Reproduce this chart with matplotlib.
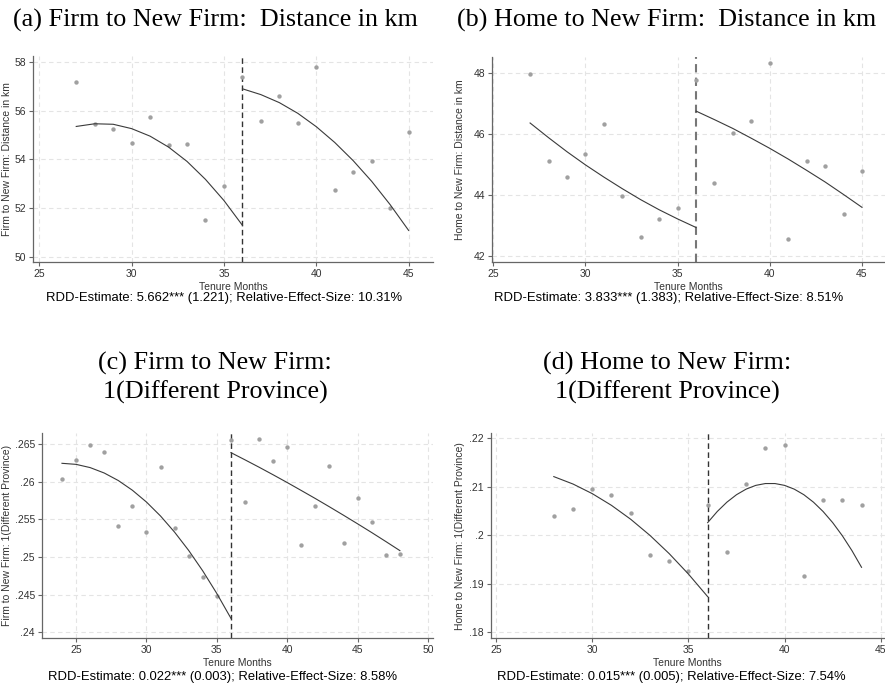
import matplotlib
matplotlib.use("Agg")
import matplotlib.pyplot as plt

plt.rcParams['font.family'] = ['Liberation Sans', 'DejaVu Sans']

# ---------------- data ----------------
# (a) Firm to New Firm: Distance in km
months_a = [27, 28, 29, 30, 31, 32, 33, 34, 35, 36, 37, 38, 39, 40, 41, 42, 43, 44, 45]
vals_a = [57.20, 55.46, 55.25, 54.69, 55.73, 54.58, 54.64, 51.49, 52.90,
          57.38, 55.58, 56.62, 55.52, 57.79, 52.75, 53.49, 53.94, 52.00, 55.15]
fitx_left_a = [27, 28, 29, 30, 31, 32, 33, 34, 35, 36]
fit_left_a = [55.36, 55.47, 55.45, 55.27, 54.96, 54.51, 53.92, 53.18, 52.31, 51.29]
fitx_right_a = [36, 37, 38, 39, 40, 41, 42, 43, 44, 45]
fit_right_a = [56.91, 56.67, 56.34, 55.90, 55.35, 54.70, 53.95, 53.10, 52.14, 51.08]
xticks_a = [25, 30, 35, 40, 45]
yticks_a = [50, 52, 54, 56, 58]
yticklabels_a = ['50', '52', '54', '56', '58']

# (b) Home to New Firm: Distance in km
months_b = [27, 28, 29, 30, 31, 32, 33, 34, 35, 36, 37, 38, 39, 40, 41, 42, 43, 44, 45]
vals_b = [47.97, 45.11, 44.57, 45.35, 46.32, 43.97, 42.61, 43.22, 43.57,
          47.75, 44.38, 46.03, 46.40, 48.32, 42.54, 45.09, 44.93, 43.38, 44.78]
fitx_left_b = [27, 28, 29, 30, 31, 32, 33, 34, 35, 36]
fit_left_b = [46.35, 45.87, 45.41, 44.98, 44.58, 44.20, 43.84, 43.51, 43.21, 42.93]
fitx_right_b = [36, 37, 38, 39, 40, 41, 42, 43, 44, 45]
fit_right_b = [46.74, 46.46, 46.17, 45.85, 45.52, 45.17, 44.80, 44.42, 44.01, 43.59]
xticks_b = [25, 30, 35, 40, 45]
yticks_b = [42, 44, 46, 48]
yticklabels_b = ['42', '44', '46', '48']

# (c) Firm to New Firm: 1(Different Province)
months_c = [24, 25, 26, 27, 28, 29, 30, 31, 32, 33, 34, 35,
            36, 37, 38, 39, 40, 41, 42, 43, 44, 45, 46, 47, 48]
vals_c = [0.26039, 0.26296, 0.26496, 0.26402, 0.25418, 0.25680, 0.25330, 0.26194,
          0.25383, 0.25015, 0.24731, 0.24488,
          0.26553, 0.25738, 0.26575, 0.26283, 0.26465, 0.25166, 0.25680, 0.26207,
          0.25188, 0.25787, 0.25468, 0.25024, 0.25042]
fitx_left_c = [24, 25, 26, 27, 28, 29, 30, 31, 32, 33, 34, 35, 36]
fit_left_c = [0.26247, 0.26233, 0.26190, 0.26118, 0.26018, 0.25889, 0.25732,
              0.25546, 0.25331, 0.25088, 0.24816, 0.24515, 0.24186]
fitx_right_c = [36, 37, 38, 39, 40, 41, 42, 43, 44, 45, 46, 47, 48]
fit_right_c = [0.26389, 0.26293, 0.26195, 0.26094, 0.25991, 0.25885, 0.25778,
               0.25668, 0.25556, 0.25442, 0.25326, 0.25207, 0.25086]
xticks_c = [25, 30, 35, 40, 45, 50]
yticks_c = [0.24, 0.245, 0.25, 0.255, 0.26, 0.265]
yticklabels_c = ['.24', '.245', '.25', '.255', '.26', '.265']

# (d) Home to New Firm: 1(Different Province)
months_d = [28, 29, 30, 31, 32, 33, 34, 35, 36, 37, 38, 39, 40, 41, 42, 43, 44]
vals_d = [0.20399, 0.20550, 0.20948, 0.20825, 0.20467, 0.19601, 0.19471, 0.19258,
          0.20632, 0.19663, 0.21065, 0.21801, 0.21863, 0.19168, 0.20729, 0.20735, 0.20632]
fitx_left_d = [28, 29, 30, 31, 32, 33, 34, 35, 36]
fit_left_d = [0.21210, 0.21057, 0.20859, 0.20617, 0.20330, 0.19998, 0.19622, 0.19201, 0.18735]
fitx_right_d = [36, 36.5, 37, 37.5, 38, 38.5, 39, 39.5, 40, 40.5, 41, 41.5, 42, 42.5, 43, 43.5, 44]
fit_right_d = [0.20261, 0.20491, 0.20683, 0.20837, 0.20952, 0.21029, 0.21067, 0.21067,
               0.21029, 0.20952, 0.20837, 0.20683, 0.20491, 0.20261, 0.19992, 0.19685, 0.19340]
xticks_d = [25, 30, 35, 40, 45]
yticks_d = [0.18, 0.19, 0.20, 0.21, 0.22]
yticklabels_d = ['.18', '.19', '.2', '.21', '.22']

cutoff = 36

titles = ['(a) Firm to New Firm:  Distance in km',
          '(b) Home to New Firm:  Distance in km',
          '(c) Firm to New Firm:\n1(Different Province)',
          '(d) Home to New Firm:\n1(Different Province)']
ylabels = ['Firm to New Firm: Distance in km',
           'Home to New Firm: Distance in km',
           'Firm to New Firm: 1(Different Province)',
           'Home to New Firm: 1(Different Province)']
notes = ['RDD-Estimate: 5.662*** (1.221); Relative-Effect-Size: 10.31%',
         'RDD-Estimate: 3.833*** (1.383); Relative-Effect-Size: 8.51%',
         'RDD-Estimate: 0.022*** (0.003); Relative-Effect-Size: 8.58%',
         'RDD-Estimate: 0.015*** (0.005); Relative-Effect-Size: 7.54%']
xlabel = 'Tenure Months'

# ---------------- figure ----------------
W, H = 885, 690
fig = plt.figure(figsize=(W / 100, H / 100), dpi=100)

def rect(l, r, b, t):
    return [l / W, 1 - b / H, (r - l) / W, (b - t) / H]

TXT = '#333333'

def panel(px, xlim, ylim, xticks, yticks, yticklabels, ylab, ylab_px,
          months, vals, fxl, fyl, fxr, fyr, vcol, vlw):
    l, r, b, t = px
    ax = fig.add_axes(rect(l, r, b, t))
    ax.set_xlim(*xlim)
    ax.set_ylim(*ylim)
    ax.set_xticks(xticks)
    ax.set_xticklabels([str(v) for v in xticks])
    ax.set_yticks(yticks)
    ax.set_yticklabels(yticklabels)
    ax.grid(True, color='#e4e4e4', linestyle=(0, (4, 3)), linewidth=0.8)
    ax.set_axisbelow(True)
    for s in ['top', 'right']:
        ax.spines[s].set_visible(False)
    for s in ['left', 'bottom']:
        ax.spines[s].set_color('#666666')
        ax.spines[s].set_linewidth(0.9)
    ax.tick_params(axis='both', colors='#666666', labelcolor=TXT,
                   labelsize=7.5, length=3, width=0.8, pad=2)
    ax.set_xlabel(xlabel, fontsize=7.5, color=TXT, labelpad=2)
    ax.set_ylabel(ylab, fontsize=7.5, color=TXT)
    ax.yaxis.set_label_coords((ylab_px - l) / (r - l), 0.5)
    ax.scatter(months, vals, s=10, color='#a0a0a0', zorder=3, linewidths=0)
    ax.plot(fxl, fyl, color='#3a3a3a', lw=0.8, zorder=4)
    ax.plot(fxr, fyr, color='#3a3a3a', lw=0.8, zorder=4)
    ax.axvline(cutoff, color=vcol, lw=vlw, linestyle=(0, (4, 2.5)), zorder=2)
    return ax

panel((33.3, 433, 262, 56), (24.675, 46.32), (49.78, 58.26),
      xticks_a, yticks_a, yticklabels_a, ylabels[0], 12,
      months_a, vals_a, fitx_left_a, fit_left_a, fitx_right_a, fit_right_a,
      '#333333', 1.0)
panel((492.3, 885, 262, 56.7), (24.95, 46.25), (41.80, 48.52),
      xticks_b, yticks_b, yticklabels_b, ylabels[1], 465,
      months_b, vals_b, fitx_left_b, fit_left_b, fitx_right_b, fit_right_b,
      '#777777', 1.5)
panel((41.7, 432.7, 638.3, 433.3), (22.56, 50.33), (0.2392, 0.26646),
      xticks_c, yticks_c, yticklabels_c, ylabels[2], 12,
      months_c, vals_c, fitx_left_c, fit_left_c, fitx_right_c, fit_right_c,
      '#333333', 1.0)
panel((490.7, 885, 638.3, 433.3), (24.72, 45.22), (0.17876, 0.22103),
      xticks_d, yticks_d, yticklabels_d, ylabels[3], 465,
      months_d, vals_d, fitx_left_d, fit_left_d, fitx_right_d, fit_right_d,
      '#333333', 1.0)

serif = ['Liberation Serif', 'DejaVu Serif']
fig.text(215 / W, 1 - 20 / H, titles[0], ha='center', va='center',
         fontsize=18.8, family=serif, color='black')
fig.text(667 / W, 1 - 20 / H, titles[1], ha='center', va='center',
         fontsize=18.8, family=serif, color='black')
fig.text(215 / W, 1 - 378 / H, titles[2], ha='center', va='center',
         fontsize=18.8, family=serif, color='black', linespacing=1.32)
fig.text(667 / W, 1 - 378 / H, titles[3], ha='center', va='center',
         fontsize=18.8, family=serif, color='black', linespacing=1.32)

fig.text(224 / W, 1 - 298 / H, notes[0], ha='center', va='center', fontsize=9.4, color='black')
fig.text(669 / W, 1 - 298 / H, notes[1], ha='center', va='center', fontsize=9.4, color='black')
fig.text(223 / W, 1 - 677 / H, notes[2], ha='center', va='center', fontsize=9.4, color='black')
fig.text(671.7 / W, 1 - 677 / H, notes[3], ha='center', va='center', fontsize=9.4, color='black')

fig.savefig('out.png', dpi=100, facecolor='white')
